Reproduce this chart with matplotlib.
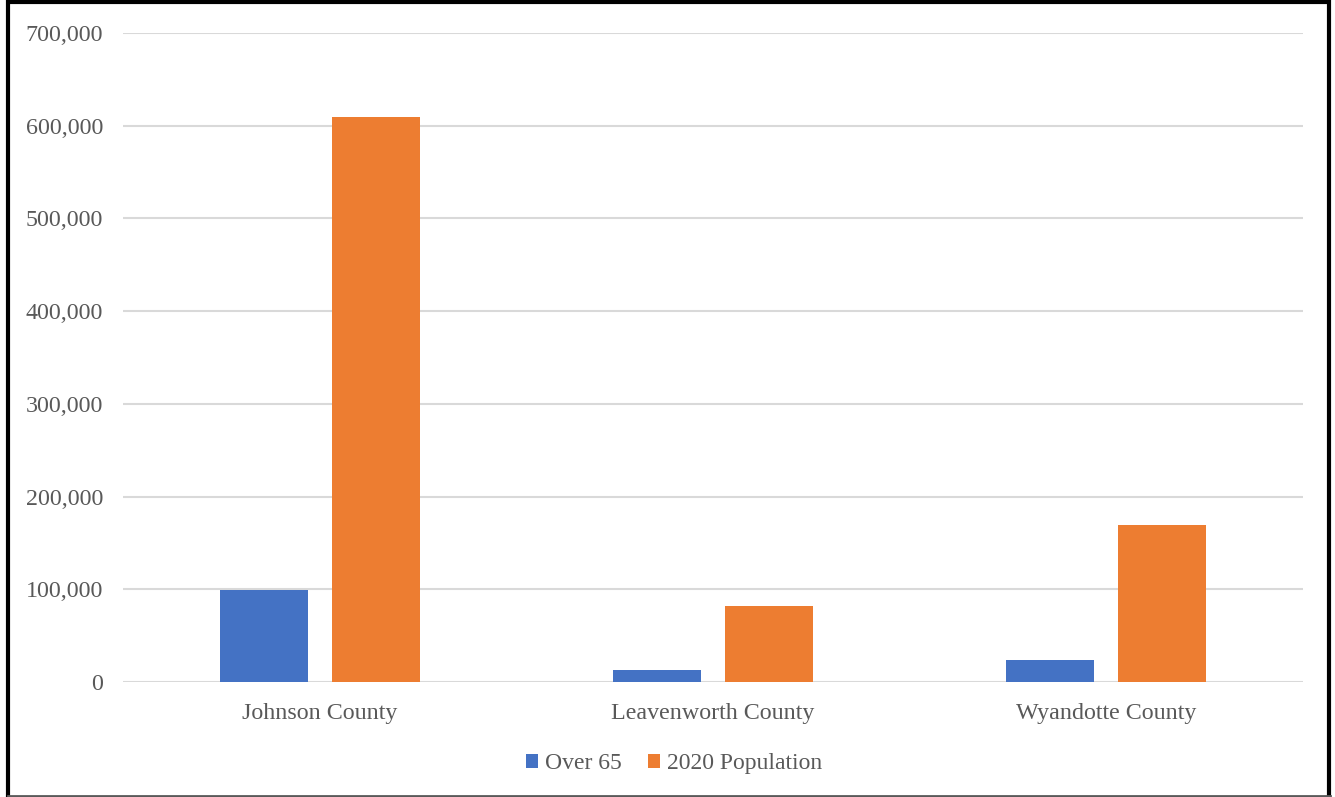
import matplotlib.pyplot as plt
import numpy as np
from matplotlib.patches import Rectangle
from matplotlib.ticker import FuncFormatter

counties = ["Johnson County", "Leavenworth County", "Wyandotte County"]
over_65 = [99200, 12900, 23700]
pop_2020 = [609863, 81881, 169245]
series_names = ["Over 65", "2020 Population"]
yticks = [0, 100000, 200000, 300000, 400000, 500000, 600000, 700000]

blue = "#4472C4"
orange = "#ED7D31"
gray_txt = "#595959"

plt.rcParams['font.family'] = ['Liberation Serif', 'DejaVu Serif']

fig = plt.figure(figsize=(13.35, 7.97), dpi=100)
ax = fig.add_axes([0.0921, 0.1443, 0.8839, 0.8143])

x = np.arange(len(counties))
w = 0.224
off = 0.1425
ax.bar(x - off, over_65, w, color=blue, label=series_names[0], zorder=3)
ax.bar(x + off, pop_2020, w, color=orange, label=series_names[1], zorder=3)

ax.set_xlim(-0.5, len(counties) - 0.5)
ax.set_ylim(0, 700000)
ax.set_yticks(yticks)
ax.yaxis.set_major_formatter(FuncFormatter(lambda v, p: f"{int(v):,}"))
ax.set_xticks(x)
ax.set_xticklabels(counties)
ax.grid(axis='y', color='#D9D9D9', linewidth=1.5, zorder=0)
for s in ax.spines.values():
    s.set_visible(False)
ax.tick_params(axis='both', length=0, labelsize=17.3, colors=gray_txt)
ax.tick_params(axis='y', pad=14.4)
ax.tick_params(axis='x', pad=15.3)

ax.legend(loc='upper center', bbox_to_anchor=(0.467, -0.077), ncol=2, frameon=False,
          fontsize=17, labelcolor=gray_txt, handlelength=0.5, handleheight=0.55,
          handletextpad=0.3, columnspacing=1.1)

# title sits above the visible area, only descenders show
fig.text(0.5, 1.003, "Aging Group Compared to 2020 Population Change in the Region",
         ha='center', va='baseline', fontsize=17, fontweight='bold', color='black')

# outer frame
fig.add_artist(Rectangle((0.0058, -0.002), 0.99, 0.999, transform=fig.transFigure,
                         fill=False, edgecolor='black', linewidth=3))
fig.add_artist(plt.Line2D([0.0058, 0.996], [0.0015, 0.0015], transform=fig.transFigure,
                          color='#595959', linewidth=2))

fig.savefig("out.png", dpi=100)
